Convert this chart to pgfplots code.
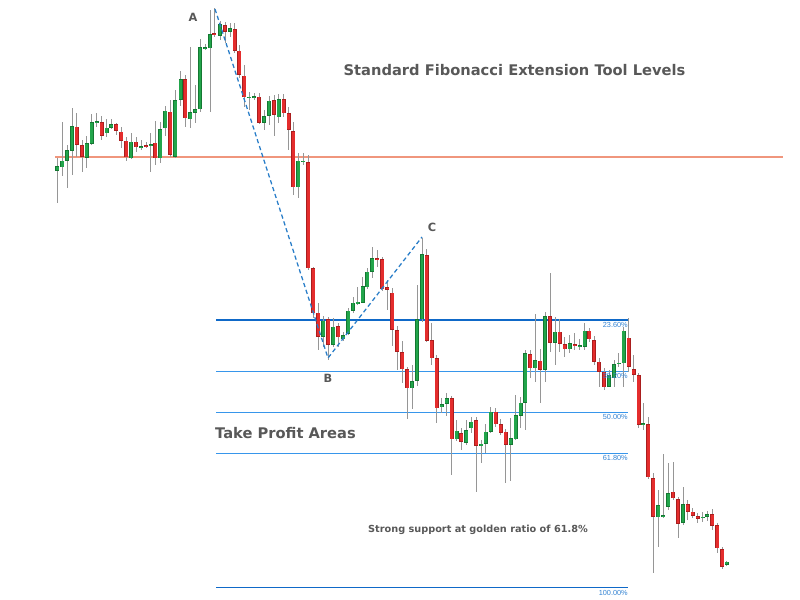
\documentclass[border=0pt]{standalone}
\usepackage{pgfplots}
\usepackage{pgfplotstable}
\pgfplotsset{compat=1.18}
\usepackage{fontspec}
\setmainfont{DejaVu Sans}
\newfontfamily\arialf{Liberation Sans}
\definecolor{cgreen}{RGB}{34,165,75}
\definecolor{cgreend}{RGB}{20,120,50}
\definecolor{cred}{RGB}{228,45,45}
\definecolor{credd}{RGB}{170,30,30}
\definecolor{wick}{RGB}{150,150,150}
\definecolor{fibdark}{RGB}{15,105,200}
\definecolor{fiblight}{RGB}{55,150,235}
\definecolor{fiblab}{RGB}{50,130,210}
\definecolor{dashb}{RGB}{40,125,200}
\definecolor{hline}{RGB}{240,150,125}
\definecolor{txt}{RGB}{88,88,88}

\pgfplotstableread{
x top bot hi lo
57.3 166 170.7 158 203
62.3 160.7 167.3 122 176
67 150 160.7 145 188
72 126 150.7 108 175
86.7 143 158 136 168
91.7 122 144 114 145
96.7 121 122.7 113 126.7
106.7 127.7 133.3 119 136.7
111.3 124 127.7 119 129
131 141.7 158.3 133.3 159.3
141 146 147.3 140 150
150.7 144 146 132.7 171.7
160.3 129.3 158.3 121.7 163.3
165.3 110.7 128.3 106 136
175.3 100 156.7 90 158
180.7 79.3 100 70.7 106
190.3 112.3 119.3 46.7 128.3
195.3 109.3 112.7 85 123.3
200 47.3 109.3 39.3 111.7
205 47.3 48.6 44 50
210 34 48.3 10 111.7
220 24 36 20.7 40
230 28.3 31.7 23.3 36.7
249.3 96.5 97.7 91.7 110
254 96 97.2 93 100
264 116 122.7 110 130
269 100.7 116 96 125
278.7 99.3 117.3 94 122.7
298.3 160.7 187.3 152.7 198.3
303.3 160.7 161.9 153.3 165
323.3 320.7 336.7 316 346.7
333.3 326.7 345 318.3 346.7
343.3 335 339.3 331.7 340.7
348.3 310.7 334 308.3 335
353 302.7 310.7 296.7 312.7
357.7 301.7 304 286.7 305
362.7 286 302.7 276.7 303.3
367.3 271.7 287.3 268.3 289.3
372.3 258.3 271.7 246.7 278.3
412 381 388.3 365 409.3
417 319.3 381 285 385.7
422 254 319.3 238.3 321.7
441.7 404 407.3 398.3 413.3
446.7 398.3 404 393.3 416
456.7 430.7 439.3 420 440.7
466.3 430 442.7 420 445
471.3 421.7 428.3 416.7 433.3
481.3 443.5 446 440 463.3
485.7 431.7 444 424 452.7
490.7 411.7 431.7 406.7 433.3
510.7 438.3 445 418.3 480.7
515.7 415 439.3 395 440
520.7 402.7 416 396.7 428.3
525.3 353.3 402.7 350 430
535.3 360 368.3 314 381.7
545 316 370 311.7 381.7
555 331.7 342.7 316.7 365
569.7 343.3 349.3 335 353.3
579.7 345 347.3 339.3 350
584.7 330.7 346.7 322.7 350
609 375 386.7 370 387.3
614 364 378.3 360 387.3
618.7 362.7 364 353.3 366.7
623.7 330.7 363.3 326.7 386.7
643.3 423.3 425.3 403.3 430
658.3 505 517.3 490 547.3
663.3 515 516.3 454 518.3
668.3 493.3 506.7 463.3 510
683 504 522.7 486.7 525
702.7 516.7 517.9 512 522
707.3 514.3 516.7 510.7 520.7
726.7 561.7 565 561 566
}\greentab

\pgfplotstableread{
x top bot hi lo
76.7 126.7 145 112.7 156.7
82 145 156.7 140 171.7
101.7 122 135.7 116 140
116.3 124 130.7 122.7 135
121.3 131.7 140.7 126.7 148
126.3 140.7 157.3 136.7 160.7
136 141.7 147.3 136.7 151.7
146 145 146.7 141.7 148.3
155.3 142.7 158.3 120.7 165
170.3 111.7 155 100 156.7
185.3 79 118.3 75 126.7
214.3 33.3 35.3 8.3 36.7
225 25 31.7 21.7 43.3
234.7 29 50.7 23.3 53.3
239.3 50.7 75 45 78.3
244.3 75.7 97.3 65 106.7
259 96.7 122.7 92.7 124
274 100 115 95 136
283.7 99.3 113.3 94 117.3
288.7 113.3 130 106.7 150
293.3 131 187.3 122 195
308.3 162.3 268.3 155 270
313.3 268.3 313.3 267 318
318.3 312.7 336.7 302.7 350
328.3 319.3 345 316.7 360
338.3 326 337.3 322.7 346.7
377.3 258.3 260 250 266.7
382.3 259.3 289.3 257 290.5
387.3 287 289.5 280 310
392.3 292.7 330 288.3 346
397.3 330 351.7 326 370
402.3 352.3 369.3 340.7 383.3
407.3 369.3 388.3 366.7 419.3
426.7 255 340.7 249.3 341.7
431.7 340 358.3 323.3 365
436.7 358.3 408.3 355 422.7
451.7 398.3 439.3 396 475
461.3 433.3 441.7 428.3 450
476.3 420 446 417.3 491.7
495.7 411.7 424.3 408.3 426.7
500.7 424 432.7 419.3 435
505.7 431.7 445 429.3 483.3
530.3 354.3 368.3 350 378.3
540.3 360.7 370 349.3 403.3
550 316 342.7 273.3 351.7
559.7 331.7 344 319.3 351.7
564.7 344 349.3 336.7 356.7
574.7 344 345.3 333.3 350
589.3 330.7 339.3 328.3 341.7
594 340 361.7 336 365
599 361.7 371.7 358.3 387.3
604 371.7 387.3 368.3 390
628.7 337.7 366.7 318.3 371.7
633.7 369.3 375 355 381.7
638.7 375 425 373.3 428.3
648.3 424 477.3 416.7 479.3
653.3 478.3 516.7 473.3 573.3
673 491.7 498.3 461.7 500
678 499.3 524 496.7 538.3
687.7 504 511.7 500 520
692.7 511.7 516 508.3 518.3
697.7 516 519 513.3 523.3
712.3 514.3 526 509.3 530
717.3 525 548.3 522.7 553.3
722.3 549.3 566.7 546.7 569.3
}\redtab

\pgfplotsset{
  candle/.style n args={2}{draw=none, mark=none, forget plot,
    error bars/.cd, y dir=both, y explicit, error mark=none,
    error bar style={solid, line width=#1, draw=#2}},
  hl/.style n args={2}{draw=#1, line width=#2, mark=none, solid, forget plot},
}

\begin{document}
\begin{tikzpicture}
\useasboundingbox (0,0) rectangle (600pt,450pt);
\begin{axis}[
  at={(0,0)}, anchor=south west,
  width=600pt, height=450pt, scale only axis,
  xmin=0, xmax=800, ymin=0, ymax=600,
  y dir=reverse, hide axis, clip=false,
]
% horizontal line
\addplot[hl={hline}{0.8pt}] coordinates {(55,157) (783,157)};
% fib levels
\addplot[hl={fibdark}{1.15pt}] coordinates {(216,320) (628,320)};
\addplot[hl={fiblight}{0.9pt}] coordinates {(216,371.5) (628,371.5)};
\addplot[hl={fiblight}{0.9pt}] coordinates {(216,412.3) (628,412.3)};
\addplot[hl={fiblight}{0.9pt}] coordinates {(216,453.8) (628,453.8)};
\addplot[hl={fibdark}{1.15pt}] coordinates {(216,587.3) (628,587.3)};
% wicks
\addplot[candle={0.75pt}{wick}]
  table[x=x, y expr={(\thisrow{hi}+\thisrow{lo})/2}, y error expr={(\thisrow{lo}-\thisrow{hi})/2}] {\greentab};
\addplot[candle={0.75pt}{wick}]
  table[x=x, y expr={(\thisrow{hi}+\thisrow{lo})/2}, y error expr={(\thisrow{lo}-\thisrow{hi})/2}] {\redtab};
% bodies outline
\addplot[candle={2.8pt}{cgreend}]
  table[x=x, y expr={(\thisrow{top}+\thisrow{bot})/2}, y error expr={(\thisrow{bot}-\thisrow{top})/2}] {\greentab};
\addplot[candle={2.8pt}{credd}]
  table[x=x, y expr={(\thisrow{top}+\thisrow{bot})/2}, y error expr={(\thisrow{bot}-\thisrow{top})/2}] {\redtab};
% bodies fill
\addplot[candle={2.0pt}{cgreen}]
  table[x=x, y expr={(\thisrow{top}+\thisrow{bot})/2}, y error expr={max((\thisrow{bot}-\thisrow{top})/2-0.55,0.05)}] {\greentab};
\addplot[candle={2.0pt}{cred}]
  table[x=x, y expr={(\thisrow{top}+\thisrow{bot})/2}, y error expr={max((\thisrow{bot}-\thisrow{top})/2-0.55,0.05)}] {\redtab};
% dashed A-B-C
\addplot[draw=dashb, line width=0.95pt, mark=none, dash pattern=on 3.2pt off 2.2pt] coordinates {(215,9) (328,358) (422,237)};
% texts
\node[text=txt, font=\fontsize{11}{13}\selectfont\bfseries] at (axis cs:514.5,70) {Standard Fibonacci Extension Tool Levels};
\node[text=txt, font=\fontsize{11}{13}\selectfont\bfseries] at (axis cs:285.5,433.5) {Take Profit Areas};
\node[text=txt, font=\fontsize{7.3}{9}\selectfont\bfseries] at (axis cs:478,530) {Strong support at golden ratio of 61.8\%};
\node[text=txt, font=\fontsize{8.5}{10}\selectfont\bfseries] at (axis cs:193,17.5) {A};
\node[text=txt, font=\fontsize{8.5}{10}\selectfont\bfseries] at (axis cs:328,378) {B};
\node[text=txt, font=\fontsize{8.5}{10}\selectfont\bfseries] at (axis cs:432,227) {C};
\node[anchor=east, text=fiblab, font=\arialf\fontsize{5.5}{6.5}\selectfont, inner sep=0pt] at (axis cs:628,324.5) {23.60\%};
\node[anchor=east, text=fiblab, font=\arialf\fontsize{5.5}{6.5}\selectfont, inner sep=0pt] at (axis cs:628,376) {38.20\%};
\node[anchor=east, text=fiblab, font=\arialf\fontsize{5.5}{6.5}\selectfont, inner sep=0pt] at (axis cs:628,417.3) {50.00\%};
\node[anchor=east, text=fiblab, font=\arialf\fontsize{5.5}{6.5}\selectfont, inner sep=0pt] at (axis cs:628,458.3) {61.80\%};
\node[anchor=east, text=fiblab, font=\arialf\fontsize{5.5}{6.5}\selectfont, inner sep=0pt] at (axis cs:628,592.7) {100.00\%};
\end{axis}
\end{tikzpicture}
\end{document}
